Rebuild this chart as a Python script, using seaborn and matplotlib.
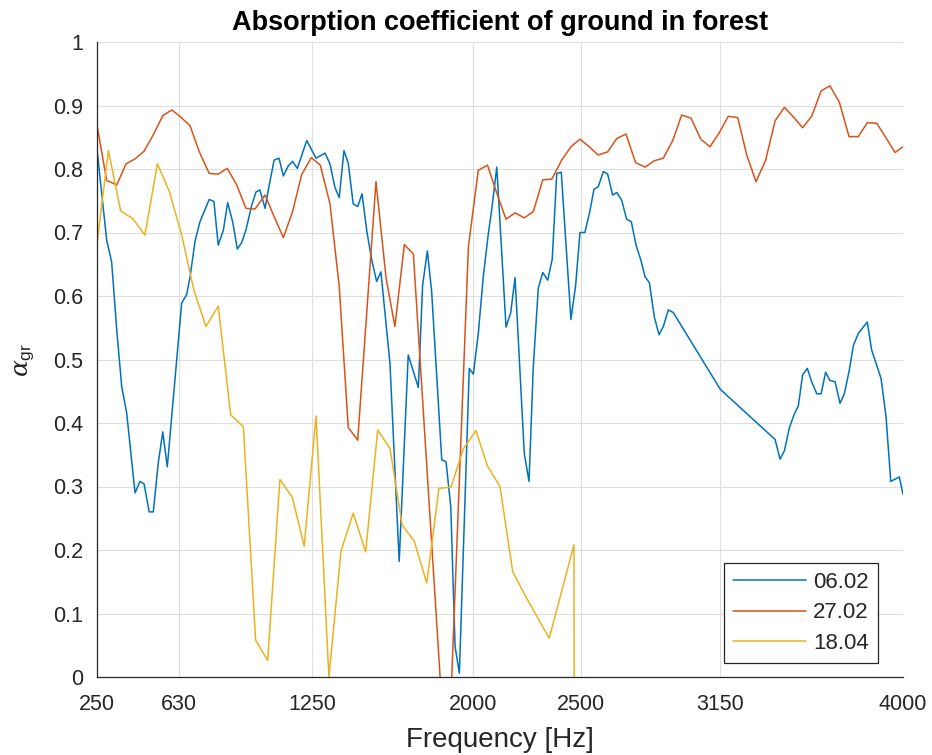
import matplotlib
matplotlib.use("Agg")
import matplotlib.pyplot as plt
import numpy as np
import pandas as pd
import seaborn as sns

# Measured absorption coefficient of forest ground, three measurement dates
freq_0602 = [250, 295, 318, 342, 365, 388, 427, 450, 469, 493, 512, 535, 556, 577,
             644, 667, 683, 706, 729, 772, 794, 814, 838, 858, 881, 903, 923, 943,
             970, 990, 1008, 1032, 1047, 1074, 1097, 1117, 1140, 1160, 1182, 1226,
             1269, 1311, 1334, 1357, 1377, 1399, 1419, 1442, 1463, 1483, 1505, 1528,
             1551, 1571, 1613, 1656, 1698, 1745, 1765, 1787, 1807, 1854, 1874, 1896,
             1916, 1936, 1982, 2001, 2024, 2047, 2071, 2086, 2110, 2133, 2153, 2175,
             2195, 2238, 2260, 2280, 2303, 2324, 2347, 2368, 2389, 2410, 2455, 2477,
             2497, 2520, 2544, 2562, 2582, 2606, 2626, 2649, 2668, 2691, 2714, 2736,
             2758, 2780, 2800, 2820, 2843, 2865, 2885, 2908, 2931, 3150, 3405, 3428,
             3448, 3471, 3493, 3513, 3533, 3555, 3575, 3599, 3619, 3640, 3660, 3684,
             3707, 3727, 3750, 3769, 3792, 3834, 3854, 3898, 3921, 3943, 3983, 4000]
alpha_0602 = [0.831, 0.688, 0.654, 0.546, 0.457, 0.416, 0.290, 0.308, 0.304, 0.260,
              0.260, 0.337, 0.386, 0.331, 0.589, 0.602, 0.630, 0.686, 0.717, 0.752,
              0.749, 0.680, 0.704, 0.747, 0.717, 0.674, 0.684, 0.704, 0.743, 0.764,
              0.767, 0.738, 0.767, 0.814, 0.817, 0.789, 0.805, 0.812, 0.801, 0.845,
              0.817, 0.825, 0.808, 0.771, 0.755, 0.829, 0.809, 0.745, 0.741, 0.761,
              0.703, 0.657, 0.623, 0.638, 0.494, 0.182, 0.507, 0.456, 0.617, 0.671,
              0.607, 0.342, 0.339, 0.268, 0.048, 0.006, 0.486, 0.477, 0.541, 0.630,
              0.699, 0.735, 0.803, 0.667, 0.551, 0.574, 0.629, 0.352, 0.308, 0.489,
              0.612, 0.637, 0.625, 0.658, 0.793, 0.795, 0.563, 0.617, 0.700, 0.700,
              0.735, 0.768, 0.772, 0.796, 0.792, 0.759, 0.763, 0.751, 0.721, 0.717,
              0.680, 0.657, 0.630, 0.621, 0.567, 0.539, 0.552, 0.578, 0.574, 0.453,
              0.374, 0.343, 0.356, 0.392, 0.413, 0.427, 0.476, 0.486, 0.465, 0.446,
              0.446, 0.480, 0.467, 0.465, 0.431, 0.446, 0.483, 0.522, 0.541, 0.559,
              0.515, 0.470, 0.410, 0.308, 0.315, 0.288]

freq_2702 = [250, 295, 342, 385, 427, 469, 512, 556, 598, 639, 683, 726, 772, 814,
             856, 900, 943, 985, 1032, 1074, 1117, 1160, 1202, 1247, 1289, 1334,
             1377, 1419, 1463, 1548, 1595, 1636, 1680, 1722, 1880, 1978, 2024, 2067,
             2110, 2153, 2195, 2238, 2280, 2324, 2366, 2412, 2455, 2497, 2540, 2582,
             2626, 2668, 2711, 2756, 2800, 2843, 2885, 2929, 2970, 3014, 3059, 3102,
             3145, 3187, 3231, 3273, 3316, 3361, 3405, 3448, 3490, 3533, 3575, 3619,
             3660, 3704, 3749, 3792, 3834, 3878, 3921, 3963, 4000]
alpha_2702 = [0.869, 0.782, 0.775, 0.808, 0.816, 0.828, 0.854, 0.884, 0.893, 0.882,
              0.868, 0.827, 0.793, 0.792, 0.801, 0.775, 0.738, 0.737, 0.759, 0.725,
              0.692, 0.733, 0.791, 0.818, 0.806, 0.745, 0.615, 0.393, 0.373, 0.780,
              0.628, 0.552, 0.681, 0.666, -0.180, 0.678, 0.798, 0.806, 0.762, 0.721,
              0.731, 0.723, 0.733, 0.783, 0.784, 0.814, 0.835, 0.847, 0.835, 0.822,
              0.827, 0.848, 0.855, 0.810, 0.803, 0.813, 0.817, 0.845, 0.885, 0.880,
              0.847, 0.835, 0.857, 0.883, 0.881, 0.822, 0.780, 0.814, 0.876, 0.897,
              0.882, 0.865, 0.883, 0.923, 0.931, 0.905, 0.851, 0.851, 0.873, 0.872,
              0.849, 0.826, 0.835]

freq_1804 = [250, 303, 360, 416, 473, 531, 586, 644, 701, 757, 814, 872, 931, 988,
             1044, 1101, 1159, 1214, 1269, 1329, 1385, 1442, 1500, 1556, 1613, 1670,
             1726, 1784, 1841, 1897, 1954, 2013, 2067, 2125, 2184, 2241, 2354, 2469,
             2470]
alpha_1804 = [0.682, 0.829, 0.734, 0.722, 0.696, 0.808, 0.765, 0.696, 0.609, 0.552,
              0.584, 0.413, 0.394, 0.058, 0.026, 0.311, 0.283, 0.206, 0.411, 0.000,
              0.198, 0.258, 0.197, 0.389, 0.360, 0.239, 0.214, 0.148, 0.297, 0.299,
              0.359, 0.388, 0.332, 0.300, 0.166, 0.129, 0.061, 0.208, 0.000]

dates = ["06.02", "27.02", "18.04"]
colors = ["#0072BD", "#D95319", "#EDB120"]
x_ticks = [250, 630, 1250, 2000, 2500, 3150, 4000]
y_ticks = [0, 0.1, 0.2, 0.3, 0.4, 0.5, 0.6, 0.7, 0.8, 0.9, 1]
y_tick_labels = ["0", "0.1", "0.2", "0.3", "0.4", "0.5", "0.6", "0.7", "0.8", "0.9", "1"]

frames = []
for date, f, a in zip(dates, [freq_0602, freq_2702, freq_1804],
                      [alpha_0602, alpha_2702, alpha_1804]):
    frames.append(pd.DataFrame({"Frequency": f, "alpha": a, "Date": date}))
data = pd.concat(frames, ignore_index=True)

sns.set_style("white")
plt.rcParams["font.family"] = ["Liberation Sans", "DejaVu Sans"]
plt.rcParams["mathtext.fontset"] = "custom"
plt.rcParams["mathtext.rm"] = "Liberation Sans"
plt.rcParams["mathtext.it"] = "DejaVu Serif:italic"

text_color = "#262626"

fig = plt.figure(figsize=(9.32, 7.55), dpi=100)
ax = fig.add_axes([97 / 932, 1 - 677 / 755, 806 / 932, 635 / 755])

sns.lineplot(data=data, x="Frequency", y="alpha", hue="Date", hue_order=dates,
             palette=colors, estimator=None, sort=False, linewidth=1.1, ax=ax)

ax.set_xlim(250, 4000)
ax.set_ylim(0, 1)
ax.set_xticks(x_ticks)
ax.set_xticklabels([str(t) for t in x_ticks])
ax.set_yticks(y_ticks)
ax.set_yticklabels(y_tick_labels)

ax.grid(True, color="#DEDEDE", linewidth=0.8)
ax.set_axisbelow(True)
for side in ["top", "right"]:
    ax.spines[side].set_visible(False)
for side in ["left", "bottom"]:
    ax.spines[side].set_color(text_color)
    ax.spines[side].set_linewidth(0.9)

ax.tick_params(axis="both", direction="in", length=5, width=0.9, color=text_color,
               labelsize=15.5, labelcolor=text_color)
ax.tick_params(axis="x", pad=12)
ax.tick_params(axis="y", pad=10)

ax.set_xlabel("Frequency [Hz]", fontsize=20, color=text_color, labelpad=9)
ax.set_ylabel(r"$\alpha_{\mathrm{gr}}$", fontsize=18, color=text_color)
ax.yaxis.set_label_coords(-0.074, 0.5)
ax.set_title("Absorption coefficient of ground in forest", fontsize=19.5,
             fontweight="bold", color="black", pad=9)

leg = ax.legend(loc="lower right", bbox_to_anchor=(781 / 806, 14 / 635),
                borderaxespad=0, fontsize=16, handlelength=3.3,
                handletextpad=0.3, labelspacing=0.42, borderpad=0.42,
                fancybox=False, framealpha=1, edgecolor=text_color)
leg.get_frame().set_linewidth(0.9)
for line in leg.get_lines():
    line.set_linewidth(1.1)

fig.savefig("out.png", dpi=100)
